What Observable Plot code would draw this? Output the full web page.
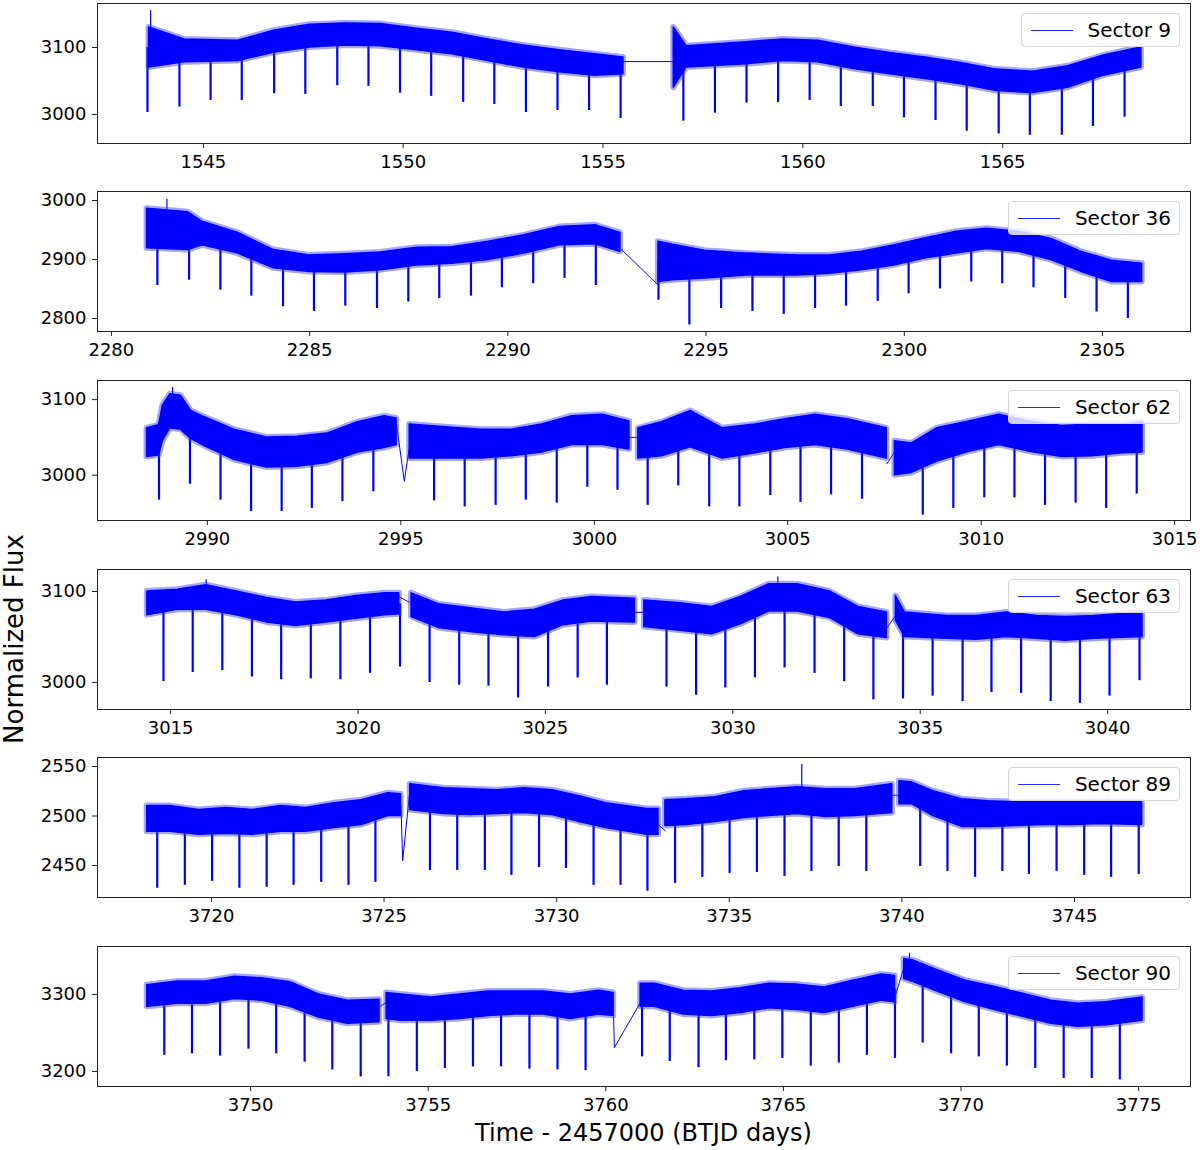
<!DOCTYPE html>
<html>
<head>
<meta charset="utf-8">
<script src="https://cdn.jsdelivr.net/npm/d3@7"></script>
<script src="https://cdn.jsdelivr.net/npm/@observablehq/plot@0.6"></script>
<style>
  body { margin: 0; background: #fff; font-family: "DejaVu Sans", sans-serif; }
  #fig { position: relative; width: 1200px; height: 1150px; background: #fff; overflow: hidden; }
  .panel { position: absolute; left: 0; }
  .legend { position: absolute; right: 20px; height: 34px; box-sizing: border-box; border: 1px solid #d4d4d4; border-radius: 4px;
            background: rgba(255,255,255,0.8); display: flex; align-items: center; padding: 0 8px 0 9px; font-size: 20px; color: #000; }
  .legend .sw { width: 42px; height: 1px; background: #2a2aff; margin-right: 15px; }
  .xlab { position: absolute; left: 97px; width: 1093px; text-align: center; top: 1119px; font-size: 24px; color: #000; }
  .ylab { position: absolute; left: 14px; top: 639px; font-size: 26px; color: #000; transform: translate(-50%, -50%) rotate(-90deg); white-space: nowrap; }
</style>
</head>
<body>
<div id="fig"></div>
<script>
// ---------------- DATA ----------------
const sectors = ["Sector 9", "Sector 36", "Sector 62", "Sector 63", "Sector 89", "Sector 90"];

// Sector 9 — band knots (time, lower/upper flux of dense band), segments, dips, gaps
const s9_t = [1543.64,1544.53,1545.87,1546.76,1547.66,1548.55,1549.44,1550.34,1551.23,1552.12,1553.01,1553.91,1554.8,1555.51,
              1556.77,1557.09,1558.6,1559.5,1560.39,1561.28,1562.18,1563.07,1563.96,1564.85,1565.75,1566.64,1567.53,1568.47];
const s9_lo = [3070,3078,3080,3092,3100,3103,3102,3096,3090,3080,3070,3063,3058,3060,
               3040,3070,3075,3080,3078,3068,3060,3053,3045,3035,3032,3040,3058,3070];
const s9_hi = [3130,3112,3110,3125,3134,3136,3135,3128,3122,3112,3103,3096,3090,3085,
               3130,3102,3108,3112,3110,3100,3092,3085,3077,3067,3064,3072,3088,3100];
const s9_segLen = [14, 14];
const s9_dipT = [1543.6,1544.4,1545.18,1545.96,1546.77,1547.55,1548.35,1549.13,1549.92,1550.7,1551.5,1552.28,1553.07,1553.86,1554.65,1555.44,
                 1557.01,1557.8,1558.59,1559.38,1560.17,1560.95,1561.75,1562.53,1563.32,1564.1,1564.9,1565.68,1566.48,1567.26,1568.05];
const s9_dipF = [3003,3011,3021,3021,3031,3030,3043,3042,3032,3027,3018,3015,3003,3006,3006,2994,
                 2990,3002,3017,3018,3021,3012,3012,2995,2991,2975,2971,2969,2969,2982,2996];
const s9_gapT = [1555.51,1556.77];
const s9_gapF = [3079,3079];
const s9_gapId = [1,1];
const s9_upT = [1543.68];
const s9_upF = [3155];
const s9_xTicks = [1545,1550,1555,1560,1565];
const s9_yTicks = [3000,3100];

// Sector 36
const s36_t = [2280.9,2281.94,2282.3,2283.2,2284.1,2285.0,2285.9,2286.8,2287.7,2288.6,2289.51,2290.41,2291.31,2292.21,2292.84,
               2293.8,2294.16,2294.97,2296.05,2297.31,2298.12,2298.93,2299.74,2300.55,2301.32,2302.08,2302.9,2303.71,2304.47,2305.24,2306.0];
const s36_lo = [2919,2916,2924,2910,2885,2879,2878,2882,2890,2893,2899,2910,2924,2926,2913,
                2862,2865,2868,2873,2873,2876,2882,2890,2902,2910,2918,2913,2899,2879,2862,2862];
const s36_hi = [2986,2980,2964,2945,2916,2907,2909,2912,2920,2921,2930,2941,2955,2958,2945,
                2930,2925,2915,2910,2907,2907,2913,2924,2936,2947,2952,2947,2935,2913,2898,2893];
const s36_segLen = [15, 16];
const s36_dipT = [2281.16,2281.96,2282.75,2283.53,2284.33,2285.11,2285.9,2286.7,2287.49,2288.27,2289.07,2289.85,2290.64,2291.43,2292.22,
                  2293.8,2294.58,2295.38,2296.17,2296.96,2297.75,2298.53,2299.33,2300.11,2300.9,2301.69,2302.47,2303.26,2304.06,2304.85,2305.64];
const s36_dipF = [2856,2865,2848,2838,2820,2812,2821,2817,2828,2834,2838,2852,2859,2868,2856,
                  2831,2789,2817,2812,2807,2817,2821,2829,2842,2850,2862,2859,2852,2834,2811,2800];
const s36_gapT = [2292.84,2293.8];
const s36_gapF = [2919,2856];
const s36_gapId = [1,1];
const s36_upT = [2281.4];
const s36_upF = [3002];
const s36_xTicks = [2280,2285,2290,2295,2300,2305];
const s36_yTicks = [2800,2900,3000];

// Sector 62
const s62_t = [2988.44,2988.75,2988.85,2989.04,2989.32,2989.58,2989.87,2990.71,2991.54,2992.32,2993.1,2993.89,2994.58,2994.89,
               2995.23,2996.25,2997.08,2997.86,2998.65,2999.43,3000.22,3000.91,
               3001.14,3001.75,3002.49,3003.32,3004.16,3004.93,3005.72,3006.55,3007.56,
               3007.77,3008.21,3008.86,3009.69,3010.47,3011.26,3012.09,3012.87,3013.66,3014.17];
const s62_lo = [3024,3026,3045,3062,3060,3048,3040,3020,3010,3011,3016,3030,3036,3040,
                3022,3022,3022,3025,3030,3040,3040,3034,
                3022,3025,3037,3022,3029,3036,3040,3034,3022,
                3000,3003,3018,3031,3040,3031,3024,3025,3029,3030];
const s62_hi = [3062,3066,3092,3107,3105,3085,3078,3060,3050,3051,3055,3070,3078,3075,
                3067,3063,3060,3060,3067,3078,3080,3071,
                3062,3070,3085,3062,3067,3074,3080,3074,3062,
                3045,3042,3062,3071,3080,3071,3065,3067,3067,3070];
const s62_segLen = [14, 8, 9, 10];
const s62_dipT = [2988.75,2989.55,2990.34,2991.13,2991.92,2992.7,2993.49,2994.29,2995.86,2996.65,2997.45,2998.23,2999.03,2999.82,3000.6,
                  3001.38,3002.17,3002.97,3003.75,3004.55,3005.33,3006.12,3006.92,3008.49,3009.28,3010.08,3010.86,3011.65,3012.44,3013.23,3014.02];
const s62_dipF = [2967,2988,2967,2952,2952,2956,2965,2978,2966,2958,2960,2967,2963,2984,2980,
                  2960,2986,2958,2958,2973,2964,2974,2968,2947,2956,2970,2970,2960,2963,2956,2975];
const s62_gapT = [2994.89,2995.09,2995.23, 3000.91,3001.14, 3007.56,3007.77];
const s62_gapF = [3067,2992,3040, 3050,3050, 3015,3031];
const s62_gapId = [1,1,1, 2,2, 3,3];
const s62_upT = [2989.1];
const s62_upF = [3116];
const s62_xTicks = [2990,2995,3000,3005,3010,3015];
const s62_yTicks = [3000,3100];

// Sector 63
const s63_t = [3014.38,3015.19,3015.95,3016.76,3017.57,3018.34,3019.15,3019.96,3020.72,3021.1,
               3021.43,3022.15,3023.1,3023.91,3024.72,3025.48,3026.24,3027.39,
               3027.64,3028.59,3029.45,3030.21,3030.97,3031.73,3032.59,3033.35,3034.11,
               3034.35,3034.59,3035.73,3036.5,3037.31,3038.12,3038.88,3039.64,3040.93];
const s63_lo = [3074,3080,3080,3074,3066,3062,3066,3070,3074,3075,
                3072,3060,3055,3052,3050,3063,3067,3066,
                3061,3057,3053,3064,3078,3078,3071,3053,3049,
                3068,3050,3048,3047,3050,3048,3046,3048,3050];
const s63_hi = [3100,3102,3107,3100,3093,3088,3090,3095,3098,3098,
                3098,3086,3081,3077,3080,3090,3094,3092,
                3090,3087,3083,3094,3108,3108,3100,3083,3077,
                3095,3077,3073,3073,3077,3073,3072,3073,3077];
const s63_segLen = [10, 8, 9, 9];
const s63_dipT = [3014.81,3015.59,3016.38,3017.17,3017.95,3018.74,3019.53,3020.32,3021.12,3021.91,3022.7,3023.48,3024.27,3025.07,3025.86,3026.64,
                  3028.23,3029.02,3029.8,3030.59,3031.38,3032.18,3032.97,3033.75,3034.54,3035.33,3036.13,3036.9,3037.69,3038.48,3039.26,3040.05,3040.85];
const s63_dipF = [3001,3011,3013,3006,3003,3004,3003,3010,3017,3000,2997,2996,2983,2995,3005,2997,
                  2995,2986,2994,3005,3016,3010,3001,2981,2982,2985,2979,2989,2988,2979,2977,2985,3002];
const s63_gapT = [3021.1,3021.43, 3027.39,3027.64, 3034.11,3034.35];
const s63_gapF = [3094,3087, 3077,3077, 3060,3074];
const s63_gapId = [1,1, 2,2, 3,3];
const s63_upT = [3015.95,3031.2];
const s63_upF = [3113,3116];
const s63_xTicks = [3015,3020,3025,3030,3035,3040];
const s63_yTicks = [3000,3100];

// Sector 89
const s89_t = [3718.14,3718.81,3719.64,3720.42,3721.19,3722.02,3722.74,3723.57,3724.35,3725.12,3725.49,
               3725.76,3726.73,3727.5,3728.28,3729.06,3729.88,3730.66,3731.43,3732.62,3732.95,
               3733.15,3733.77,3734.6,3735.43,3736.15,3736.98,3737.81,3738.64,3739.72,
               3739.93,3740.29,3740.91,3741.74,3742.51,3743.29,3744.12,3744.94,3745.77,3746.96];
const s89_lo = [2484,2484,2481,2482,2481,2484,2484,2488,2491,2500,2500,
                2506,2502,2501,2502,2503,2501,2494,2488,2481,2481,
                2490,2491,2494,2498,2500,2502,2499,2500,2503,
                2512,2512,2500,2489,2489,2490,2491,2491,2492,2491];
const s89_hi = [2510,2510,2506,2508,2506,2510,2508,2513,2516,2523,2522,
                2532,2528,2527,2526,2528,2526,2520,2513,2507,2507,
                2516,2517,2519,2525,2527,2529,2527,2527,2532,
                2535,2534,2525,2517,2515,2514,2514,2514,2514,2514];
const s89_segLen = [11, 10, 9, 10];
const s89_dipT = [3718.43,3719.23,3720.02,3720.81,3721.6,3722.38,3723.18,3723.97,3724.75,3726.33,3727.12,3727.92,3728.69,3729.49,3730.27,3731.07,3731.85,
                  3732.63,3733.43,3734.22,3735.01,3735.8,3736.6,3737.38,3738.17,3738.97,3740.53,3741.32,3742.12,3742.91,3743.68,3744.48,3745.28,3746.06,3746.86];
const s89_dipF = [2427,2430,2434,2427,2428,2430,2433,2430,2433,2445,2445,2445,2440,2448,2447,2430,2430,
                  2424,2432,2438,2442,2443,2439,2444,2449,2444,2449,2444,2438,2444,2441,2444,2440,2438,2441];
const s89_gapT = [3725.49,3725.54,3725.76, 3732.95,3733.15, 3739.72,3739.93];
const s89_gapF = [2511,2455,2530, 2491,2485, 2521,2521];
const s89_gapId = [1,1,1, 2,2, 3,3];
const s89_upT = [3737.1];
const s89_upF = [2552];
const s89_xTicks = [3720,3725,3730,3735,3740,3745];
const s89_yTicks = [2450,2500,2550];

// Sector 90
const s90_t = [3747.09,3747.95,3748.75,3749.56,3750.31,3751.12,3751.92,3752.73,3753.63,
               3753.83,3754.23,3755.09,3755.89,3756.7,3757.45,3758.25,3759.01,3759.81,3760.22,
               3760.98,3761.38,3762.19,3762.99,3763.8,3764.6,3765.36,3766.16,3766.96,3767.77,3768.14,
               3768.4,3768.67,3769.32,3770.13,3770.93,3771.74,3772.54,3773.3,3774.1,3775.11];
const s90_lo = [3284,3288,3288,3294,3292,3284,3270,3262,3264,
                3268,3266,3266,3268,3272,3274,3274,3268,3274,3272,
                3284,3284,3274,3272,3276,3282,3280,3276,3284,3292,3290,
                3320,3316,3304,3290,3280,3271,3262,3258,3260,3266];
const s90_hi = [3312,3317,3317,3323,3321,3316,3300,3292,3293,
                3302,3300,3296,3300,3304,3304,3304,3300,3305,3302,
                3314,3314,3305,3304,3308,3314,3313,3309,3318,3326,3324,
                3346,3344,3332,3318,3310,3301,3292,3288,3290,3296];
const s90_segLen = [9, 10, 11, 10];
const s90_dipT = [3747.57,3748.35,3749.14,3749.94,3750.72,3751.52,3752.3,3753.1,3753.88,3754.68,3755.47,3756.26,3757.05,3757.85,3758.64,3759.43,
                  3761.02,3761.8,3762.61,3763.38,3764.18,3764.97,3765.77,3766.56,3767.35,3768.14,3768.92,3769.72,3770.5,3771.29,3772.09,3772.89,3773.68,3774.47];
const s90_dipF = [3221,3223,3220,3229,3223,3212,3202,3193,3193,3200,3204,3206,3206,3203,3202,3201,
                  3219,3213,3205,3214,3215,3217,3207,3211,3221,3217,3237,3223,3219,3207,3204,3191,3191,3189];
const s90_gapT = [3753.63,3753.83, 3760.22,3760.24,3760.98, 3768.14,3768.4];
const s90_gapF = [3284,3290, 3271,3231,3290, 3297,3336];
const s90_gapId = [1,1, 2,2,2, 3,3];
const s90_upT = [3768.55];
const s90_upF = [3353];
const s90_xTicks = [3750,3755,3760,3765,3770,3775];
const s90_yTicks = [3200,3300];

// scale domains (axis limits) per panel
const xDomains = [[1542.35,1569.7],[2279.65,2307.22],[2987.16,3015.41],[3013.05,3042.21],[3716.7,3748.36],[3745.69,3776.46]];
const yDomains = [[2956.7,3165.7],[2778,3015.3],[2940,3125.3],[2970.3,3124.2],[2417.7,2559.1],[3180.5,3362.3]];

// ---------------- BUILD ----------------
const raw = [
  [s9_t,s9_lo,s9_hi,s9_segLen,s9_dipT,s9_dipF,s9_gapT,s9_gapF,s9_gapId,s9_upT,s9_upF,s9_xTicks,s9_yTicks],
  [s36_t,s36_lo,s36_hi,s36_segLen,s36_dipT,s36_dipF,s36_gapT,s36_gapF,s36_gapId,s36_upT,s36_upF,s36_xTicks,s36_yTicks],
  [s62_t,s62_lo,s62_hi,s62_segLen,s62_dipT,s62_dipF,s62_gapT,s62_gapF,s62_gapId,s62_upT,s62_upF,s62_xTicks,s62_yTicks],
  [s63_t,s63_lo,s63_hi,s63_segLen,s63_dipT,s63_dipF,s63_gapT,s63_gapF,s63_gapId,s63_upT,s63_upF,s63_xTicks,s63_yTicks],
  [s89_t,s89_lo,s89_hi,s89_segLen,s89_dipT,s89_dipF,s89_gapT,s89_gapF,s89_gapId,s89_upT,s89_upF,s89_xTicks,s89_yTicks],
  [s90_t,s90_lo,s90_hi,s90_segLen,s90_dipT,s90_dipF,s90_gapT,s90_gapF,s90_gapId,s90_upT,s90_upF,s90_xTicks,s90_yTicks]
];

const frameTops = [3, 191, 380, 569, 757, 946];
const fig = document.getElementById("fig");

raw.forEach((r, k) => {
  const [T, LO, HI, segLen, dT, dF, gT, gF, gId, uT, uF, xTicks, yTicks] = r;
  const segIds = segLen.flatMap((n, i) => Array(n).fill(i));
  const knots = T.map((t, i) => ({t, lo: LO[i], hi: HI[i], seg: segIds[i]}));
  // band centre at time t (used only as the top end of a dip / flare stroke)
  const mid = t => {
    for (let i = 0; i < knots.length - 1; i++) {
      const a = knots[i], b = knots[i + 1];
      if (a.seg === b.seg && t >= a.t && t <= b.t) {
        const f = (t - a.t) / (b.t - a.t);
        return (a.lo + a.hi) / 2 + f * ((b.lo + b.hi) / 2 - (a.lo + a.hi) / 2);
      }
    }
    const n = d3.least(knots, d => Math.abs(d.t - t));
    return (n.lo + n.hi) / 2;
  };
  const dips = dT.map((t, i) => ({t, f: dF[i], b: mid(t)}));
  const ups = uT.map((t, i) => ({t, f: uF[i], b: mid(t)}));
  const gaps = gT.map((t, i) => ({t, f: gF[i], id: gId[i]}));

  const svg = Plot.plot({
    width: 1200, height: 186,
    marginTop: 3, marginBottom: 43, marginLeft: 97, marginRight: 10,
    x: {domain: xDomains[k]},
    y: {domain: yDomains[k]},
    style: {fontFamily: "DejaVu Sans", fontSize: "18px", color: "#000", background: "transparent", overflow: "visible"},
    marks: [
      Plot.line(gaps, {x: "t", y: "f", z: "id", stroke: "blue", strokeWidth: 1}),
      Plot.ruleX(dips, {x: "t", y1: "f", y2: "b", stroke: "blue", strokeWidth: 2.2}),
      Plot.ruleX(ups, {x: "t", y1: "b", y2: "f", stroke: "blue", strokeWidth: 1.2}),
      Plot.areaY(knots, {x: "t", y1: "lo", y2: "hi", z: "seg", fill: "blue", stroke: "#3a3aff",
                         strokeWidth: 6, strokeOpacity: 0.45, strokeLinejoin: "round"}),
      Plot.areaY(knots, {x: "t", y1: "lo", y2: "hi", z: "seg", fill: "blue", stroke: "blue", strokeWidth: 1.5}),
      Plot.frame({stroke: "#222", strokeWidth: 1}),
      Plot.axisX({ticks: xTicks, tickFormat: "d", tickSize: 5, tickPadding: 7, label: null, stroke: "#222"}),
      Plot.axisY({ticks: yTicks, tickFormat: "d", tickSize: 5, tickPadding: 6, label: null, stroke: "#222"})
    ]
  });
  const wrap = document.createElement("div");
  wrap.className = "panel";
  wrap.style.top = (frameTops[k] - 3) + "px";
  wrap.appendChild(svg);
  fig.appendChild(wrap);

  const leg = document.createElement("div");
  leg.className = "legend";
  leg.style.top = (frameTops[k] + 10) + "px";
  leg.innerHTML = '<span class="sw"></span><span>' + sectors[k] + '</span>';
  fig.appendChild(leg);
});

const xl = document.createElement("div");
xl.className = "xlab";
xl.textContent = "Time - 2457000 (BTJD days)";
fig.appendChild(xl);
const yl = document.createElement("div");
yl.className = "ylab";
yl.textContent = "Normalized Flux";
fig.appendChild(yl);
</script>
</body>
</html>
